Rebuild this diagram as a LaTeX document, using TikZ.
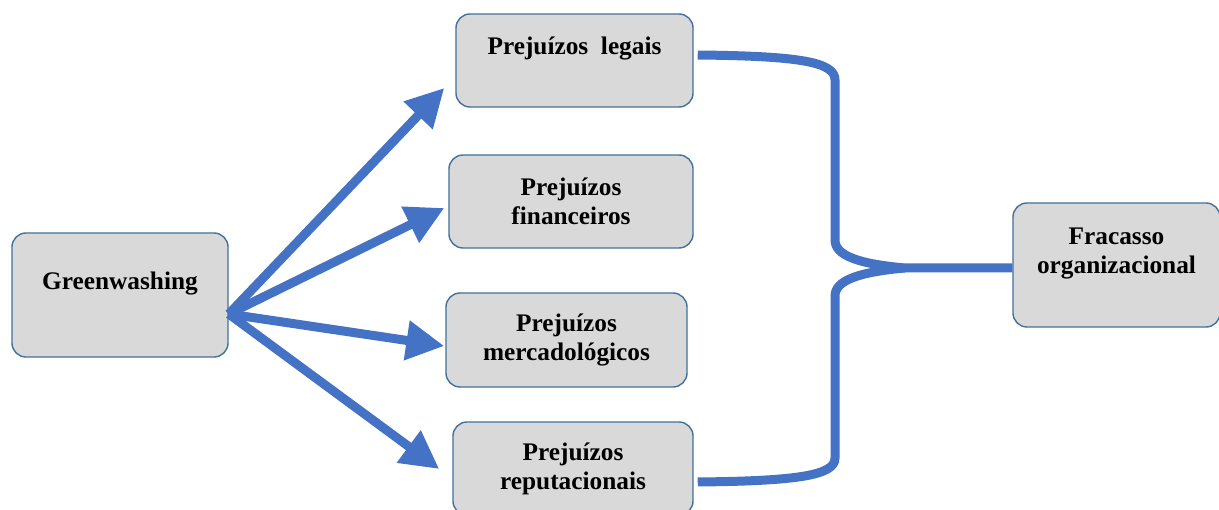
\documentclass[tikz,border=0pt]{standalone}
\usepackage{fontspec}
\setmainfont{Liberation Serif}
\usetikzlibrary{arrows.meta}

\definecolor{arrowblue}{RGB}{68,114,196}
\definecolor{boxline}{RGB}{65,113,156}
\definecolor{boxfill}{RGB}{217,217,217}

\tikzset{
  box/.style={draw=boxline, line width=1pt, fill=boxfill, rounded corners=10pt,
    align=center, inner sep=0pt, font=\bfseries\fontsize{18}{20.6}\selectfont},
  arr/.style={draw=arrowblue, line width=6.4pt, -{Triangle[length=27pt,width=27pt]}},
  brace/.style={draw=arrowblue, line width=6.4pt},
}

\begin{document}
\begin{tikzpicture}[x=0.025cm,y=-0.025cm]

      \useasboundingbox (0,0) rectangle (1219,510);

      % left box
      \node[box, minimum width=5.4cm, minimum height=3.1cm] (gw) at (120,295) {Greenwashing\\~};

      % 4 boxes in the middle
      \node[box, minimum width=5.925cm, minimum height=2.325cm] (leg) at (574.5,60.5) {Prejuízos\ \ legais\\~};
      \node[box, minimum width=6.1cm, minimum height=2.325cm] (fin) at (571,201.5) {Prejuízos\\financeiros};
      \node[box, minimum width=6.025cm, minimum height=2.35cm] (mer) at (566.5,340) {Prejuízos\\mercadológicos};
      \node[box, minimum width=6cm, minimum height=2.325cm] (rep) at (573,468.5) {Prejuízos\\reputacionais};

      % right box
      \node[box, minimum width=5.175cm, minimum height=3.1cm] (fr) at (1116.5,265) {Fracasso\\organizacional\\~};

      % arrows out of greenwashing
      \coordinate (src) at ([shift={(0,19)}]gw.east);
      \foreach \t/\dx/\dy in {leg/-11/27.5, fin/-4/6.5, mer/-1/6, rep/-13/0.5} {
        \draw[arr] (src) -- ([shift={(\dx,\dy)}]\t.west);
      }

      % the brace
      \coordinate (ts) at ([shift={(4,-5.5)}]leg.east);
      \coordinate (bs) at ([shift={(4,13.5)}]rep.east);
      \coordinate (jn) at (905,268);
      \draw[brace] (ts) .. controls (800,56) and (835,62) .. (835,80) -- (835,240)
        .. controls (835,256) and (860,264) .. (jn) -- (jn -| fr.west);
      \draw[brace] (bs) .. controls (800,481) and (835,475) .. (835,458) -- (835,296)
        .. controls (835,280) and (860,272) .. (jn);

\end{tikzpicture}
\end{document}
